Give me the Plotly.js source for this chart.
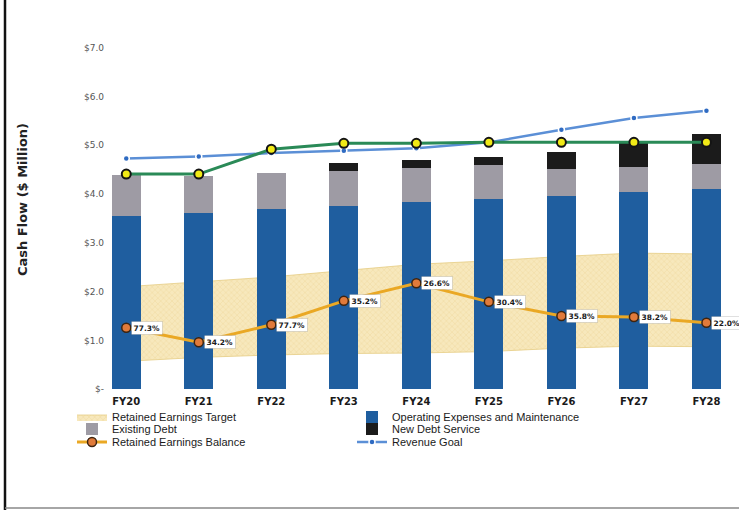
<!DOCTYPE html>
<html>
<head>
<meta charset="utf-8">
<script src="https://cdn.plot.ly/plotly-3.0.1.min.js"></script>
<style>html,body{margin:0;padding:0;background:#fff;}#chart{width:739px;height:510px;}</style>
</head>
<body>
<div id="chart"></div>
<script>
// ---- data ----
var years = ['FY20','FY21','FY22','FY23','FY24','FY25','FY26','FY27','FY28'];
var opex = [3.55,3.61,3.69,3.76,3.83,3.89,3.96,4.04,4.11];
var existingDebt = [0.84,0.77,0.74,0.72,0.70,0.71,0.55,0.52,0.51];
var newDebt = [0,0,0,0.15,0.17,0.17,0.35,0.48,0.61];
var revenueGoal = [4.73,4.77,4.84,4.89,4.94,5.06,5.32,5.56,5.71];
var revenue = [4.41,4.41,4.92,5.04,5.04,5.06,5.06,5.06,5.06];
var targetLow = [0.57,0.65,0.70,0.73,0.74,0.77,0.84,0.88,0.87];
var targetHigh = [2.10,2.20,2.30,2.43,2.56,2.63,2.72,2.79,2.77];
var reBalance = [1.26,0.96,1.32,1.81,2.17,1.79,1.50,1.48,1.36];
var reLabels = ['77.3%','34.2%','77.7%','35.2%','26.6%','30.4%','35.8%','38.2%','22.0%'];
var yTickVals = [0,1,2,3,4,5,6,7];
var yTickText = ['$-','$1.0','$2.0','$3.0','$4.0','$5.0','$6.0','$7.0'];

// ---- geometry helpers ----
var W = 739, H = 510, ML = 90, MR = 5, MT = 38, MB = 116;
var PW = W - ML - MR, PH = H - MT - MB;
function px2x(px){ return (px - ML) / PW; }
function px2y(py){ return (H - MB - py) / PH; }

var legendFont = {family:'"Liberation Sans", Arial, sans-serif', size:11, color:'#1a1a1a'};
function leg(xpx, ypx){
  return {x: xpx / W, y: 1 - ypx / H, xref:'container', yref:'container',
          xanchor:'left', yanchor:'middle', bgcolor:'rgba(0,0,0,0)',
          font: legendFont, itemwidth:30, tracegroupgap:0};
}

var traces = [
  // target band (base subplot, below bars)
  {type:'scatter', x: years, y: targetLow, mode:'lines', xaxis:'x', yaxis:'y',
   line:{color:'#e6cd84', width:0.8}, showlegend:false, hoverinfo:'skip'},
  {type:'scatter', x: years, y: targetHigh, mode:'lines', xaxis:'x', yaxis:'y',
   name:'Retained Earnings Target', fill:'tonexty', fillcolor:'#f6e6b6',
   fillpattern:{shape:'x', size:4, solidity:0.15, fgcolor:'#e9d08c', bgcolor:'#f7e8bc'},
   line:{color:'#e6cd84', width:0.8}, legend:'legend'},
  // stacked bars (overlay subplot)
  {type:'bar', x: years, y: opex, name:'Operating Expenses and Maintenance',
   xaxis:'x2', yaxis:'y2', marker:{color:'#1f5e9f'}, width:0.4, legend:'legend2'},
  {type:'bar', x: years, y: existingDebt, name:'Existing Debt',
   xaxis:'x2', yaxis:'y2', marker:{color:'#9e9ba4'}, width:0.4, legend:'legend3'},
  {type:'bar', x: years, y: newDebt, name:'New Debt Service',
   xaxis:'x2', yaxis:'y2', marker:{color:'#1b1b1b'}, width:0.4, legend:'legend4'},
  // lines
  {type:'scatter', x: years, y: revenueGoal, mode:'lines+markers', name:'Revenue Goal',
   xaxis:'x2', yaxis:'y2', line:{color:'#5b8fd6', width:2.5},
   marker:{color:'#2f6bc2', size:6, line:{color:'#ffffff', width:1.5}}, legend:'legend6'},
  {type:'scatter', x: years, y: revenue, mode:'lines+markers', name:'Revenue',
   xaxis:'x2', yaxis:'y2', line:{color:'#2a8a57', width:3},
   marker:{color:'#f1ea16', size:9, line:{color:'#141414', width:2}}, showlegend:false},
  {type:'scatter', x: years, y: reBalance, mode:'lines+markers', name:'Retained Earnings Balance',
   xaxis:'x2', yaxis:'y2', line:{color:'#eaa824', width:3},
   marker:{color:'#e07a3a', size:9, line:{color:'#3d2410', width:1.5}}, legend:'legend5'}
];

var annotations = [];
for (var i = 0; i < years.length; i++) {
  annotations.push({x: years[i], y: reBalance[i], xref:'x2', yref:'y2', text: reLabels[i],
    showarrow:false, xanchor:'left', yanchor:'middle', xshift:5,
    bgcolor:'#ffffff', bordercolor:'rgba(0,0,0,0.12)', borderwidth:1, borderpad:1.5,
    font:{family:'"DejaVu Sans", Verdana, sans-serif', size:7.5, color:'#1a1a1a', weight:'bold'}});
}
annotations.push({x: px2x(22), y: px2y(200), xref:'paper', yref:'paper', text:'Cash Flow ($ Million)',
  textangle:-90, showarrow:false, xanchor:'center', yanchor:'middle',
  font:{family:'"DejaVu Sans", Verdana, sans-serif', size:13, color:'#222', weight:'bold'}});

var yr = [-0.1, 7.2], xr = [-0.5, 8.38];

var layout = {
  width: W, height: H,
  margin:{l:ML, r:MR, t:MT, b:MB, pad:0, autoexpand:false},
  paper_bgcolor:'#ffffff', plot_bgcolor:'rgba(0,0,0,0)',
  barmode:'stack',
  xaxis:{type:'category', categoryorder:'array', categoryarray: years, range: xr,
    showgrid:false, zeroline:false, showline:false, ticks:'', tickangle:0,
    tickfont:{family:'"DejaVu Sans", Verdana, sans-serif', size:10, color:'#1a1a1a', weight:'bold'}},
  yaxis:{range: yr, tickvals: yTickVals, ticktext: yTickText, showgrid:false, zeroline:false,
    showline:false, ticks:'', anchor:'free', position: 14 / PW,
    tickfont:{family:'"DejaVu Sans", Verdana, sans-serif', size:9, color:'#555'}},
  xaxis2:{type:'category', categoryorder:'array', categoryarray: years, range: xr,
    overlaying:'x', visible:false},
  yaxis2:{range: yr, overlaying:'y', visible:false},
  legend: leg(72, 417),
  legend3: leg(72, 429),
  legend5: leg(72, 442),
  legend2: leg(352, 417),
  legend4: leg(352, 429),
  legend6: leg(352, 442),
  annotations: annotations,
  shapes:[
    {type:'line', xref:'paper', yref:'paper', x0:px2x(5), x1:px2x(5), y0:px2y(0), y1:px2y(510),
     line:{color:'#111', width:2.5}},
    {type:'line', xref:'paper', yref:'paper', x0:px2x(5), x1:px2x(739), y0:px2y(508), y1:px2y(508),
     line:{color:'#888', width:1.5}}
  ],
  showlegend:true
};

Plotly.newPlot('chart', traces, layout, {displayModeBar:false, staticPlot:true});
</script>
</body>
</html>
